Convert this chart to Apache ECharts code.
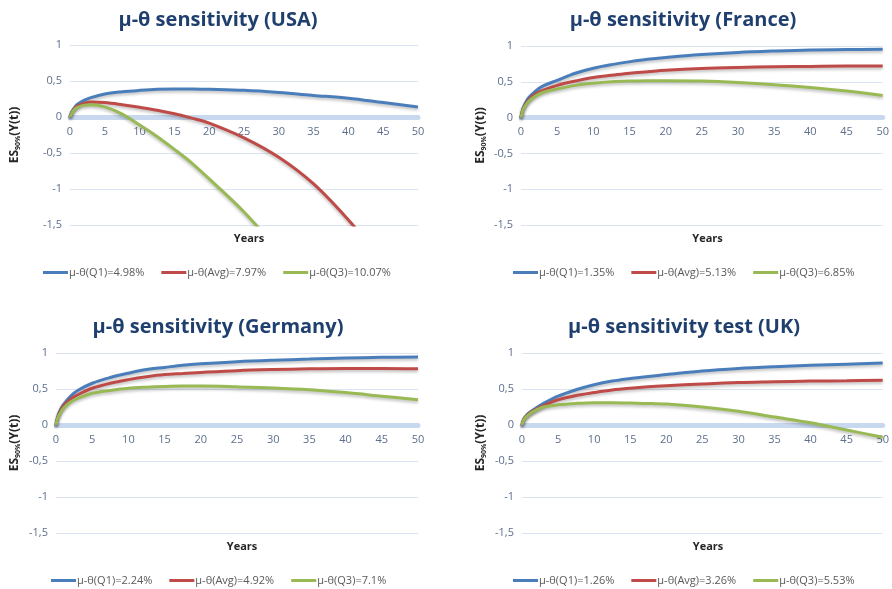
<!DOCTYPE html>
<html>
<head>
<meta charset="utf-8">
<script src="https://cdn.jsdelivr.net/npm/echarts@6/dist/echarts.min.js"></script>
<style>
  html, body { margin: 0; padding: 0; background: #ffffff; }
  #chart { width: 892px; height: 589px; }
</style>
</head>
<body>
<div id="chart"></div>
<script>
// Time horizon (years) shared by every curve
var years = [0, 0.25, 0.5, 1, 2, 3, 5, 7.5, 10, 12.5, 15, 17.5, 20, 25, 30, 35, 40, 45, 50];

// USA
var usaQ1  = [0, 0.07, 0.11, 0.17, 0.23, 0.27, 0.32, 0.35, 0.37, 0.385, 0.39, 0.39, 0.385, 0.37, 0.34, 0.30, 0.26, 0.20, 0.14];
var usaAvg = [0, 0.06, 0.10, 0.15, 0.19, 0.21, 0.20, 0.17, 0.135, 0.095, 0.045, -0.015, -0.085, -0.29, -0.56, -0.93, -1.43, -2.0, null];
var usaQ3  = [0, 0.05, 0.09, 0.13, 0.165, 0.17, 0.14, 0.04, -0.11, -0.27, -0.45, -0.64, -0.86, -1.32, -1.86, null, null, null, null];

// France
var fraQ1  = [0, 0.12, 0.18, 0.27, 0.37, 0.44, 0.52, 0.62, 0.69, 0.74, 0.78, 0.815, 0.84, 0.88, 0.91, 0.93, 0.945, 0.95, 0.955];
var fraAvg = [0, 0.11, 0.16, 0.24, 0.33, 0.38, 0.45, 0.51, 0.56, 0.59, 0.62, 0.64, 0.66, 0.685, 0.70, 0.71, 0.715, 0.72, 0.72];
var fraQ3  = [0, 0.10, 0.15, 0.22, 0.30, 0.35, 0.40, 0.45, 0.48, 0.50, 0.51, 0.515, 0.515, 0.51, 0.49, 0.46, 0.42, 0.37, 0.31];

// Germany
var gerQ1  = [0, 0.12, 0.19, 0.28, 0.40, 0.48, 0.58, 0.66, 0.72, 0.77, 0.80, 0.83, 0.85, 0.88, 0.90, 0.915, 0.93, 0.94, 0.945];
var gerAvg = [0, 0.11, 0.17, 0.26, 0.36, 0.42, 0.51, 0.58, 0.63, 0.67, 0.70, 0.715, 0.73, 0.755, 0.77, 0.78, 0.785, 0.785, 0.78];
var gerQ3  = [0, 0.10, 0.15, 0.23, 0.32, 0.37, 0.44, 0.48, 0.51, 0.525, 0.535, 0.54, 0.54, 0.53, 0.515, 0.49, 0.45, 0.40, 0.35];

// UK
var ukQ1   = [0, 0.08, 0.12, 0.17, 0.24, 0.30, 0.40, 0.49, 0.56, 0.61, 0.645, 0.675, 0.70, 0.75, 0.785, 0.81, 0.83, 0.845, 0.86];
var ukAvg  = [0, 0.08, 0.11, 0.16, 0.22, 0.27, 0.35, 0.41, 0.45, 0.485, 0.51, 0.53, 0.545, 0.57, 0.59, 0.60, 0.61, 0.615, 0.62];
var ukQ3   = [0, 0.07, 0.10, 0.15, 0.21, 0.25, 0.28, 0.30, 0.31, 0.31, 0.305, 0.30, 0.29, 0.25, 0.19, 0.11, 0.03, -0.07, -0.17];

// Panel titles and legend entries
var titles = ['μ-θ sensitivity (USA)', 'μ-θ sensitivity (France)', 'μ-θ sensitivity (Germany)', 'μ-θ sensitivity test (UK)'];
var legendNames = [
  ['μ-θ(Q1)=4.98%', 'μ-θ(Avg)=7.97%', 'μ-θ(Q3)=10.07%'],
  ['μ-θ(Q1)=1.35%', 'μ-θ(Avg)=5.13%', 'μ-θ(Q3)=6.85%'],
  ['μ-θ(Q1)=2.24%', 'μ-θ(Avg)=4.92%', 'μ-θ(Q3)=7.1%'],
  ['μ-θ(Q1)=1.26%', 'μ-θ(Avg)=3.26%', 'μ-θ(Q3)=5.53%']
];
var panelValues = [
  [usaQ1, usaAvg, usaQ3],
  [fraQ1, fraAvg, fraQ3],
  [gerQ1, gerAvg, gerQ3],
  [ukQ1, ukAvg, ukQ3]
];

var colors = ['#4a7ebb', '#be4b48', '#98b954'];
var FONT = 'Open Sans';
var Y_MIN = -1.5, Y_MAX = 1;

// Panel layout: plot rectangle, y-name gap, legend left edge, title centre
var panels = [
  { left: 70,  top: 45,  width: 348, height: 180, nameGap: 49, legendLeft: 38,  titleX: 213, titleY: 5 },
  { left: 521, top: 46,  width: 363, height: 179, nameGap: 34, legendLeft: 508, titleX: 678, titleY: 5 },
  { left: 56,  top: 353, width: 362, height: 180, nameGap: 35, legendLeft: 46,  titleX: 213, titleY: 312 },
  { left: 522, top: 353, width: 362, height: 180, nameGap: 35, legendLeft: 508, titleX: 679, titleY: 312 }
];

function pairs(vals) {
  return years.map(function (y, i) { return [y, vals[i]]; });
}

var option = {
  backgroundColor: '#ffffff',
  animation: false,
  title: [],
  legend: [],
  grid: [],
  xAxis: [],
  yAxis: [],
  series: []
};

panels.forEach(function (p, k) {
  // distance from the zero line down to the bottom of the plot
  var belowZero = p.height * (0 - Y_MIN) / (Y_MAX - Y_MIN);
  option.title.push({
    text: titles[k],
    left: p.titleX, top: p.titleY, textAlign: 'center',
    textStyle: { fontFamily: FONT, fontWeight: 'bold', fontSize: 20, color: '#1f3f6e' }
  });
  option.title.push({
    text: 'Years',
    left: p.left + p.width / 2, top: p.top + p.height + 3, textAlign: 'center',
    textStyle: { fontFamily: FONT, fontWeight: 'bold', fontSize: 11, color: '#262626' }
  });
  option.grid.push({ left: p.left, top: p.top, width: p.width, height: p.height });
  option.xAxis.push({
    type: 'value', gridIndex: k, min: 0, max: 50, interval: 5,
    axisLine: { onZero: true, lineStyle: { color: '#c8d9ef', width: 5 } },
    axisTick: { show: false },
    splitLine: { show: false },
    axisLabel: { fontFamily: FONT, fontSize: 11, color: '#5d6f8c', margin: -(belowZero - 9) }
  });
  option.yAxis.push({
    type: 'value', gridIndex: k, min: Y_MIN, max: Y_MAX, interval: 0.5,
    name: '{m|ES}{s|90%}{m|(Y(t))}',
    nameLocation: 'middle', nameGap: p.nameGap, nameRotate: 90,
    nameTextStyle: {
      rich: {
        m: { fontFamily: FONT, fontWeight: 'bold', fontSize: 12, color: '#262626' },
        s: { fontFamily: FONT, fontWeight: 'bold', fontSize: 7, color: '#262626', verticalAlign: 'bottom', padding: [6, 0, 0, 0] }
      }
    },
    axisLine: { show: false },
    axisTick: { show: false },
    splitLine: { lineStyle: { color: '#dbe5f1', width: 1 } },
    axisLabel: {
      fontFamily: FONT, fontSize: 11, color: '#5d6f8c', margin: 8,
      formatter: function (v) { return String(v).replace('.', ','); }
    }
  });
  option.legend.push({
    data: legendNames[k],
    left: p.legendLeft, top: p.top + p.height + 37,
    icon: 'rect', itemWidth: 25, itemHeight: 3, itemGap: 17,
    textStyle: { fontFamily: FONT, fontSize: 11, color: '#595959', padding: [0, 0, 0, -4] }
  });
  panelValues[k].forEach(function (vals, j) {
    option.series.push({
      name: legendNames[k][j],
      type: 'line',
      xAxisIndex: k, yAxisIndex: k,
      data: pairs(vals),
      showSymbol: false,
      smooth: 0.35,
      clip: true,
      color: colors[j],
      lineStyle: {
        width: 3, color: colors[j],
        shadowColor: 'rgba(0,0,0,0.25)', shadowBlur: 3, shadowOffsetY: 2
      }
    });
  });
});

var chart = echarts.init(document.getElementById('chart'));
chart.setOption(option);
</script>
</body>
</html>
